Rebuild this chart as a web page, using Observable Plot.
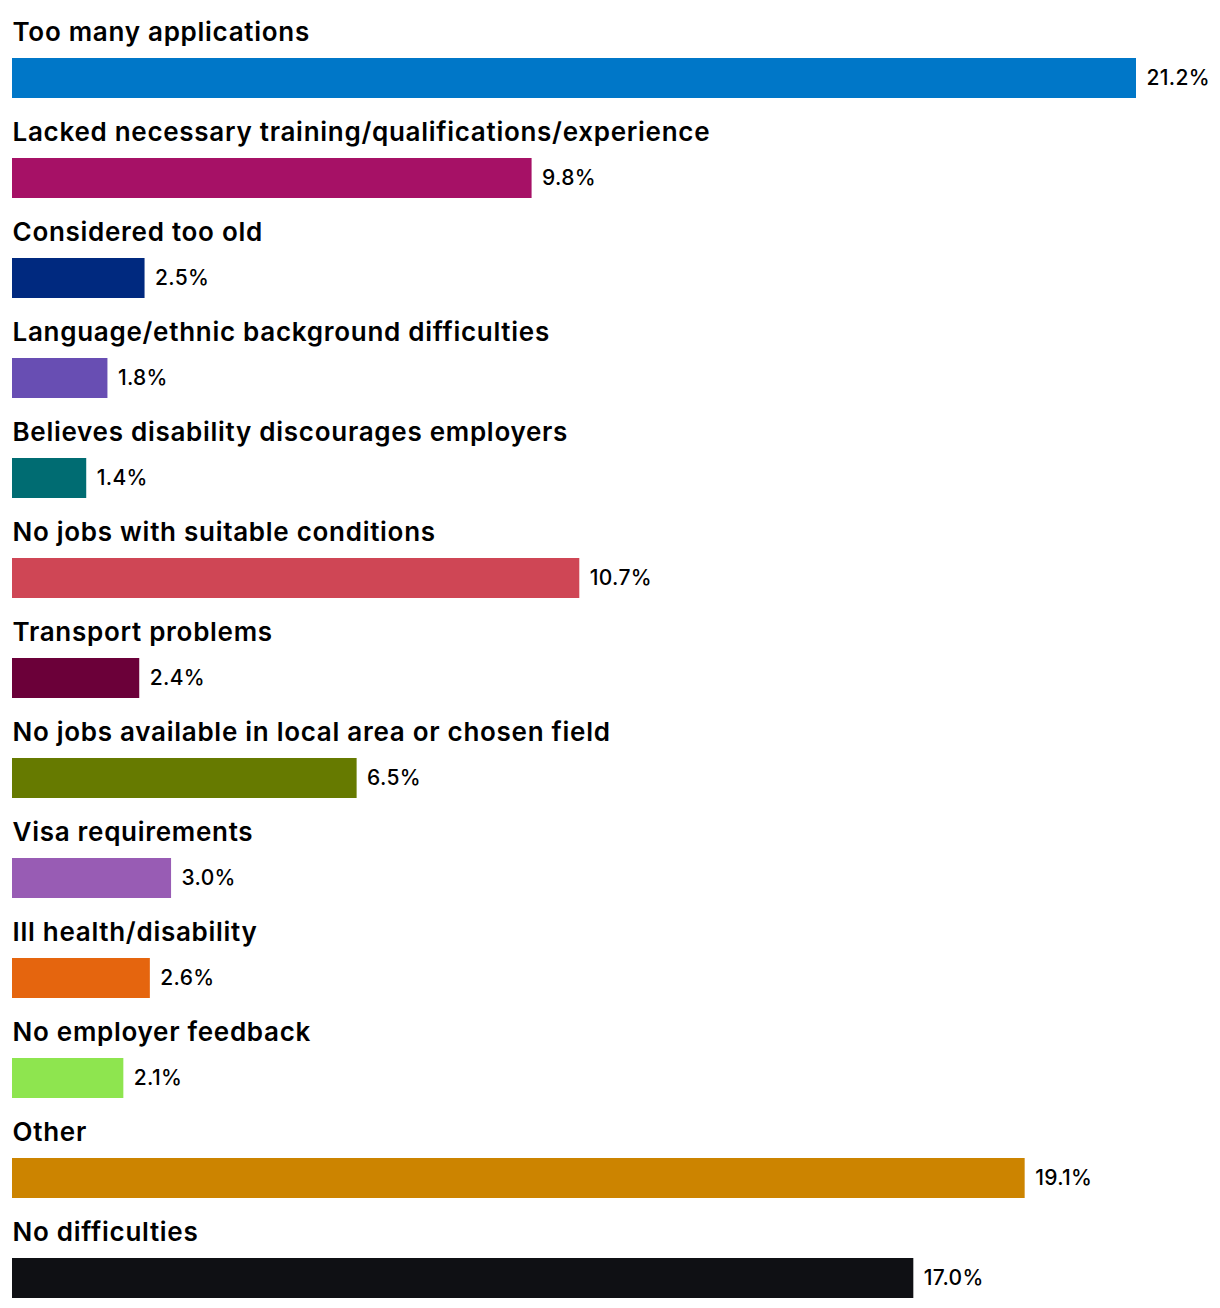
<!DOCTYPE html>
<html>
<head>
<meta charset="utf-8">
<script src="https://cdn.jsdelivr.net/npm/d3@7"></script>
<script src="https://cdn.jsdelivr.net/npm/@observablehq/plot@0.6"></script>
<style>
  html, body { margin: 0; padding: 0; background: #fff; }
  #chart svg { display: block; }
  #chart svg g.labels text { letter-spacing: 0.72px; }
  #chart svg g.values text { letter-spacing: 0.3px; }
</style>
</head>
<body>
<div id="chart"></div>
<script>
const categories = [
  "Too many applications",
  "Lacked necessary training/qualifications/experience",
  "Considered too old",
  "Language/ethnic background difficulties",
  "Believes disability discourages employers",
  "No jobs with suitable conditions",
  "Transport problems",
  "No jobs available in local area or chosen field",
  "Visa requirements",
  "Ill health/disability",
  "No employer feedback",
  "Other",
  "No difficulties"
];
const values = [21.2, 9.8, 2.5, 1.8, 1.4, 10.7, 2.4, 6.5, 3.0, 2.6, 2.1, 19.1, 17.0];
const colors = [
  "#0077c8", "#a61166", "#00297f", "#684eb3", "#006c72", "#cf4655",
  "#6b0039", "#667a00", "#985cb4", "#e5650e", "#8ee54f", "#cc8400", "#0f1014"
];

const data = categories.map((c, i) => ({category: c, value: values[i], color: colors[i]}));

const chart = Plot.plot({
  width: 1220,
  height: 1308,
  marginTop: 0,
  marginBottom: 8,
  marginLeft: 12,
  marginRight: 84,
  x: {domain: [0, 21.2], axis: null},
  y: {domain: categories, axis: null, paddingInner: 0, paddingOuter: 0},
  color: {type: "identity"},
  style: {fontFamily: "Inter, 'Noto Sans', sans-serif", background: "#fff"},
  marks: [
    Plot.barX(data, {x: "value", y: "category", fill: "color", insetTop: 58, insetBottom: 2}),
    Plot.text(data, {
      x: 0, y: "category", text: "category", textAnchor: "start", className: "labels",
      dy: -18, fontSize: 26, fontWeight: 600, fill: "#000", lineAnchor: "middle"
    }),
    Plot.text(data, {
      x: "value", y: "category", text: d => d.value.toFixed(1) + "%", textAnchor: "start", className: "values",
      dx: 10, dy: 28, fontSize: 21, fontWeight: 500, fill: "#000", lineAnchor: "middle"
    })
  ]
});
document.getElementById("chart").appendChild(chart);
</script>
</body>
</html>
